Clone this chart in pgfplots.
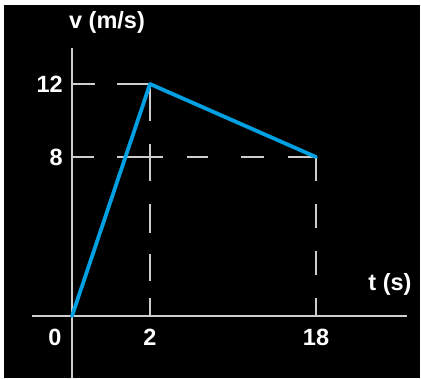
\documentclass[border=0pt]{standalone}
\usepackage{pgfplots}
\pgfplotsset{compat=1.18}
\usepackage{fontspec}
\setmainfont{Liberation Sans}
\definecolor{lineblue}{RGB}{0,160,226}
\definecolor{axgray}{RGB}{205,205,205}
\begin{document}
\begin{tikzpicture}[x=1pt,y=1pt]
\fill[white] (0,0) rectangle (421,378);
\fill[black] (4,0) rectangle (420,373);
\begin{axis}[
  at={(32pt,0pt)}, anchor=south west,
  scale only axis, width=375pt, height=330pt,
  x coord trafo/.code={\pgfmathparse{ifthenelse(#1<=2, 39*#1, 78+10.375*(#1-2))}},
  y coord trafo/.code={\pgfmathparse{ifthenelse(#1<=8, 19.875*#1, 159+18.25*(#1-8))}},
  xmin=-1.0256, xmax=26.77,
  ymin=-3.119, ymax=13.973,
  axis lines=middle,
  axis line style={axgray, line width=1.6pt, -},
  major tick length=0pt,
  xtick={2,18}, xticklabels={2,18},
  ytick={8,12}, yticklabels={8,12},
  tick label style={white, font=\bfseries\fontsize{23.5}{27}\selectfont, inner sep=0pt},
  xticklabel style={anchor=center, yshift=-21pt},
  yticklabel style={anchor=east, xshift=-9pt},
  clip=false,
]
\addplot[axgray, line width=1.4pt, dash pattern=on 23pt off 22pt on 33pt off 10pt] coordinates {(0,12) (2,12)};
\addplot[axgray, line width=1.4pt, dash pattern=on 22pt off 23pt on 46pt off 24pt on 21pt off 33pt on 23pt off 24pt on 30pt off 10pt] coordinates {(0,8) (18,8)};
\addplot[axgray, line width=1.4pt, dash pattern=on 37pt off 23pt on 37pt off 23pt on 29pt off 21pt on 27pt off 17pt on 19pt off 10pt] coordinates {(2,12) (2,0)};
\addplot[axgray, line width=1.4pt, dash pattern=on 24pt off 23pt] coordinates {(18,8) (18,0)};
\addplot[lineblue, line width=3.8pt, line join=round, line cap=round] coordinates {(0,0) (2,12) (18,8)};
\end{axis}
\node[white, font=\bfseries\fontsize{23.5}{27}\selectfont, inner sep=0pt] at (55,41) {0};
\node[white, font=\bfseries\fontsize{23.5}{27}\selectfont, inner sep=0pt] at (107,356) {v (m/s)};
\node[white, font=\bfseries\fontsize{23.5}{27}\selectfont, inner sep=0pt] at (390,94) {t (s)};
\end{tikzpicture}
\end{document}
